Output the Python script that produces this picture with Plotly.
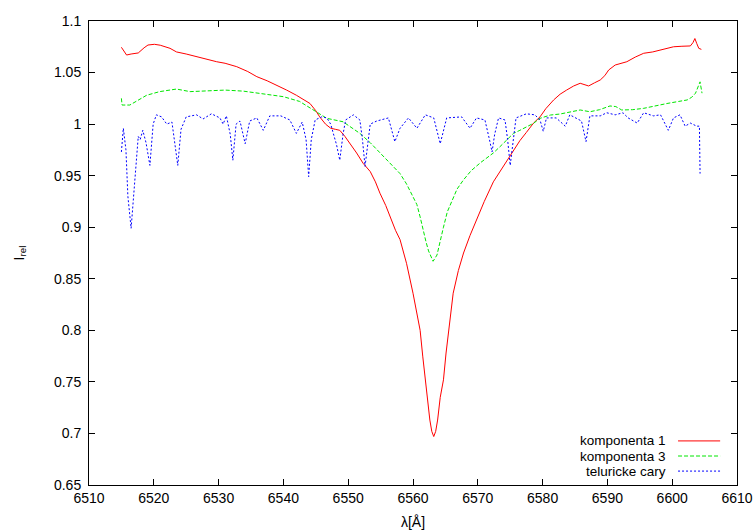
import plotly.graph_objects as go

# komponenta 1 (red)
k1_x = [6515.0, 6515.8, 6516.5, 6517.6, 6518.5, 6519.1, 6520.1, 6521.0, 6522.5, 6523.5, 6525.0, 6526.6,
        6528.0, 6529.7, 6531.0, 6532.8, 6534.5, 6535.9, 6537.5, 6538.9, 6540.5, 6542.0, 6543.0, 6544.1,
        6545.0, 6545.6, 6546.5, 6547.3, 6548.0, 6548.7, 6549.5, 6550.3, 6551.3, 6552.3, 6553.4, 6554.2,
        6554.9, 6555.8, 6556.5, 6557.3, 6558.0, 6559.0, 6560.0, 6560.6, 6561.1, 6561.5, 6561.9, 6562.3,
        6562.6, 6562.9, 6563.2, 6563.5, 6563.8, 6564.2, 6564.7, 6565.1, 6565.5, 6565.9, 6566.2, 6567.0,
        6567.8, 6568.8, 6569.8, 6571.0, 6572.4, 6573.4, 6574.5, 6575.5, 6576.5, 6577.5, 6578.6, 6579.6,
        6580.5, 6581.7, 6582.7, 6583.7, 6584.8, 6585.8, 6586.5, 6587.1, 6588.0, 6588.9, 6589.6, 6590.2,
        6591.2, 6592.0, 6593.0, 6594.3, 6595.6, 6597.0, 6598.2, 6599.2, 6600.2, 6601.5, 6602.8, 6603.2,
        6603.5, 6603.8, 6604.1, 6604.5]
k1_y = [1.0745, 1.067, 1.068, 1.069, 1.074, 1.0767, 1.0774, 1.0765, 1.0735, 1.070, 1.068, 1.0654,
        1.063, 1.0605, 1.059, 1.0557, 1.051, 1.046, 1.042, 1.038, 1.033, 1.028, 1.024, 1.020,
        1.013, 1.007, 1.000, 0.996, 0.995, 0.994, 0.988, 0.981, 0.972, 0.962, 0.954, 0.944,
        0.933, 0.921, 0.910, 0.897, 0.888, 0.865, 0.836, 0.815, 0.800, 0.775, 0.752, 0.730,
        0.713, 0.702, 0.697, 0.702, 0.713, 0.735, 0.752, 0.778, 0.800, 0.820, 0.836, 0.858,
        0.875, 0.892, 0.907, 0.925, 0.944, 0.954, 0.965, 0.974, 0.984, 0.992, 1.001, 1.007,
        1.015, 1.0234, 1.029, 1.033, 1.037, 1.0396, 1.038, 1.037, 1.040, 1.0428, 1.047, 1.0525,
        1.0573, 1.059, 1.0605, 1.065, 1.0687, 1.070, 1.0718, 1.073, 1.075, 1.0755, 1.0758, 1.079,
        1.083, 1.078, 1.0735, 1.0725]

# komponenta 3 (green)
k3_x = [6515.0, 6515.1, 6516.3, 6517.3, 6518.9, 6520.9, 6523.5, 6525.6, 6528.6, 6531.0, 6533.8, 6536.9,
        6540.0, 6542.5, 6544.6, 6546.7, 6549.2, 6550.5, 6551.8, 6553.4, 6554.9, 6556.5, 6558.0, 6559.0,
        6560.0, 6560.6, 6561.1, 6561.6, 6562.0, 6562.4, 6563.1, 6563.7, 6564.2, 6564.7, 6565.3, 6566.0,
        6566.8, 6567.8, 6569.0, 6570.5, 6572.4, 6573.4, 6575.5, 6576.5, 6578.6, 6579.6, 6581.2, 6582.7,
        6584.5, 6585.8, 6587.3, 6588.8, 6590.4, 6591.3, 6592.2, 6593.9, 6595.6, 6597.5, 6599.2, 6601.0,
        6602.3, 6603.0, 6603.6, 6604.3, 6604.6]
k3_y = [1.025, 1.0185, 1.0185, 1.022, 1.028, 1.0315, 1.034, 1.0315, 1.032, 1.033, 1.032, 1.029,
        1.0266, 1.022, 1.0137, 1.0056, 1.0023, 0.997, 0.991, 0.982, 0.972, 0.962, 0.952, 0.942,
        0.930, 0.922, 0.910, 0.896, 0.886, 0.877, 0.867, 0.873, 0.888, 0.900, 0.915, 0.926,
        0.937, 0.946, 0.955, 0.963, 0.972, 0.978, 0.991, 0.994, 1.0008, 1.0056, 1.0088, 1.0098,
        1.012, 1.0137, 1.012, 1.014, 1.0176, 1.017, 1.0137, 1.014, 1.0153, 1.018, 1.020, 1.022,
        1.0234, 1.026, 1.030, 1.041, 1.030]

# telluric lines (blue)
tel_x = [6515.0, 6515.3, 6515.7, 6516.0, 6516.5, 6517.0, 6517.6, 6517.9, 6518.3, 6518.8, 6519.4, 6519.9,
         6520.4, 6521.2, 6522.0, 6522.8, 6523.2, 6523.7, 6524.2, 6525.0, 6526.6, 6527.6, 6528.9, 6530.2,
         6530.7, 6531.2, 6531.8, 6532.2, 6532.7, 6533.3, 6534.1, 6534.8, 6535.9, 6536.9, 6537.9, 6539.6,
         6541.0, 6542.0, 6542.9, 6543.5, 6543.9, 6544.3, 6544.9, 6545.9, 6546.7, 6547.3, 6547.7, 6548.2,
         6548.7, 6549.2, 6549.6, 6550.8, 6551.8, 6552.2, 6552.6, 6553.1, 6553.4, 6554.4, 6556.2, 6557.2,
         6558.0, 6559.3, 6560.6, 6561.9, 6563.2, 6564.2, 6565.2, 6567.5, 6568.8, 6569.8, 6571.1, 6571.8,
         6572.2, 6572.6, 6573.2, 6574.2, 6574.6, 6575.0, 6575.5, 6575.9, 6577.5, 6578.8, 6579.6, 6580.1,
         6580.6, 6582.1, 6583.5, 6584.2, 6586.0, 6586.7, 6587.3, 6588.9, 6589.9, 6591.2, 6592.4, 6593.2,
         6594.6, 6595.6, 6597.1, 6598.2, 6599.4, 6600.2, 6601.2, 6602.0, 6602.8, 6603.8, 6604.2, 6604.3]
tel_y = [0.973, 0.996, 0.975, 0.930, 0.899, 0.940, 0.988, 0.985, 0.994, 0.982, 0.960, 1.000,
         1.009, 1.007, 1.000, 1.002, 0.985, 0.960, 0.995, 1.007, 1.009, 1.005, 1.010, 1.006,
         1.000, 1.008, 0.990, 0.965, 1.000, 1.003, 0.981, 1.003, 1.006, 0.994, 1.008, 1.008,
         1.004, 0.991, 1.002, 0.985, 0.949, 0.985, 1.004, 1.007, 1.006, 1.000, 0.991, 0.980,
         0.965, 0.990, 1.004, 1.009, 1.004, 0.985, 0.959, 0.985, 1.000, 1.003, 1.006, 0.983,
         0.996, 1.006, 0.996, 1.009, 1.006, 0.981, 1.006, 1.007, 0.996, 1.006, 1.004, 0.985,
         0.973, 0.990, 1.006, 1.004, 0.985, 0.960, 0.985, 1.006, 1.010, 1.009, 1.004, 0.993,
         1.006, 1.006, 0.998, 1.009, 1.003, 0.983, 1.008, 1.008, 1.011, 1.009, 1.011, 1.006,
         1.001, 1.011, 1.008, 1.009, 0.994, 1.006, 1.009, 0.998, 1.001, 0.998, 0.998, 0.952]

x_ticks = [6510, 6520, 6530, 6540, 6550, 6560, 6570, 6580, 6590, 6600, 6610]
y_ticks = [0.65, 0.7, 0.75, 0.8, 0.85, 0.9, 0.95, 1, 1.05, 1.1]
names = ["komponenta 1", "komponenta 3", "teluricke cary"]
colors = ["#ff0000", "#00e600", "#0000ff"]
dashes = ["solid", "4px,2px", "2px,2px"]

FONT = "Liberation Sans, Arial, sans-serif"
FS = 14

fig = go.Figure()
for xs, ys, nm, c, d in zip([k1_x, k3_x, tel_x], [k1_y, k3_y, tel_y], names, colors, dashes):
    fig.add_trace(go.Scatter(x=xs, y=ys, mode="lines", name=nm, showlegend=False,
                             line=dict(color=c, width=1, dash=d)))

# legend drawn gnuplot style: text right-aligned, sample line on the right
leg_y = [0.095, 0.0625, 0.030]
for nm, c, d, ly in zip(names, colors, dashes, leg_y):
    fig.add_annotation(x=0.892, y=ly, xref="paper", yref="paper", text=nm, showarrow=False,
                       xanchor="right", yanchor="middle", font=dict(family=FONT, size=13.5, color="black"),
                       borderpad=0)
    fig.add_shape(type="line", xref="paper", yref="paper", x0=0.909, x1=0.974, y0=ly, y1=ly,
                  line=dict(color=c, width=1, dash=d))

axis_common = dict(showgrid=False, zeroline=False, showline=True, linecolor="black", linewidth=1,
                   mirror="allticks", ticks="inside", ticklen=6, tickcolor="black", automargin=False,
                   tickfont=dict(family=FONT, size=FS, color="black"))
fig.update_xaxes(range=[6510, 6610], tickvals=x_ticks, ticktext=[str(v) for v in x_ticks],
                 title=dict(text="λ[Å]", font=dict(family=FONT, size=FS, color="black"), standoff=12),
                 **axis_common)
fig.update_yaxes(range=[0.65, 1.1], tickvals=y_ticks, ticktext=[f"{v:g}" for v in y_ticks],
                 title=dict(text="I<sub>rel</sub>", font=dict(family=FONT, size=FS, color="black"), standoff=26),
                 ticklabelstandoff=4, **axis_common)
fig.update_layout(width=756, height=531, margin=dict(l=89, r=19, t=21, b=46, autoexpand=False),
                  plot_bgcolor="white", paper_bgcolor="white", showlegend=False)
fig.write_html("out.html")
